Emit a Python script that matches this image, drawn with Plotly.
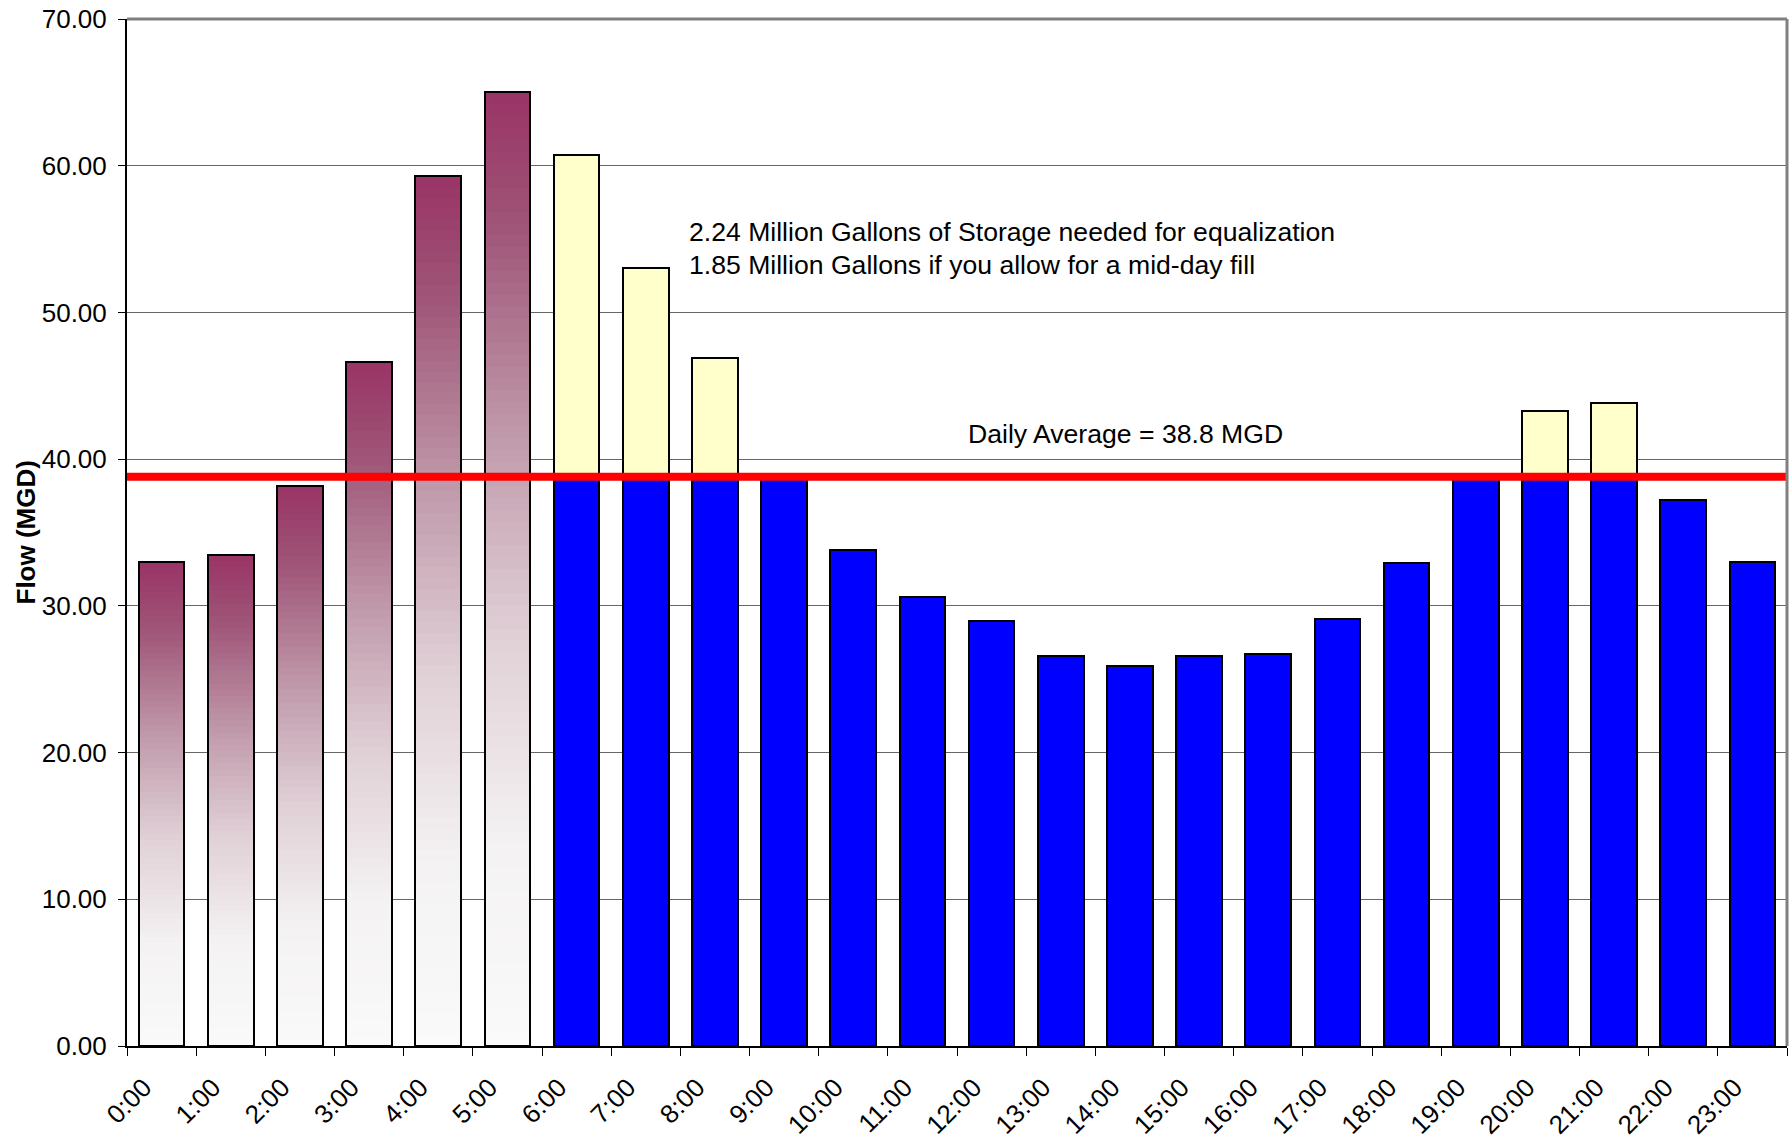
import plotly.graph_objects as go

# Hourly flow profile (MGD) for one day
hour_labels = [f"{h}:00" for h in range(24)]
hours = list(range(24))
flow = [33.0, 33.5, 38.2, 46.6, 59.3, 65.0, 60.7, 53.0, 46.9, 38.8, 33.8, 30.6,
        29.0, 26.6, 25.9, 26.6, 26.7, 29.1, 32.9, 38.8, 43.3, 43.8, 37.2, 33.0]
fill_hours = [0, 1, 2, 3, 4, 5]          # early-morning storage fill period
daily_avg = 38.8
y_ticks = [0, 10, 20, 30, 40, 50, 60, 70]

note_lines = ["2.24 Million Gallons of Storage needed for equalization",
              "1.85 Million Gallons if you allow for a mid-day fill"]
avg_label = f"Daily Average = {daily_avg} MGD"

FONT = "Arial, Liberation Sans, Helvetica, sans-serif"
BAR_W = 0.66
# Gradient stops for the fill-period bars (fraction of bar height -> rgb)
GRAD_STOPS = [(0.0, (250, 250, 250)), (0.21, (244, 242, 243)), (0.43, (224, 208, 214)),
              (0.64, (192, 154, 171)), (0.86, (159, 85, 119)), (1.0, (153, 51, 102))]


def blend(t):
    for (f0, c0), (f1, c1) in zip(GRAD_STOPS[:-1], GRAD_STOPS[1:]):
        if t <= f1:
            u = (t - f0) / (f1 - f0)
            r, g, b = (round(c0[i] + (c1[i] - c0[i]) * u) for i in range(3))
            return f"rgb({r},{g},{b})"
    r, g, b = GRAD_STOPS[-1][1]
    return f"rgb({r},{g},{b})"


fig = go.Figure()

# Fill-period bars: vertical gradient built from thin stacked slices
n_slices = 80
gx, gbase, gh, gcol = [], [], [], []
for h in fill_hours:
    v = flow[h]
    step = v / n_slices
    for k in range(n_slices):
        gx.append(h + 0.5)
        gbase.append(k * step)
        gh.append(step * 1.02)
        gcol.append(blend((k + 0.5) / n_slices))
fig.add_trace(go.Bar(x=gx, y=gh, base=gbase, width=BAR_W,
                     marker=dict(color=gcol, line=dict(width=0)),
                     hoverinfo="skip", showlegend=False))
# Outline of the fill-period bars
fig.add_trace(go.Bar(x=[h + 0.5 for h in fill_hours], y=[flow[h] for h in fill_hours],
                     width=BAR_W,
                     marker=dict(color="rgba(0,0,0,0)", line=dict(color="black", width=2)),
                     showlegend=False))

# Remaining hours: flow up to the daily average in blue
rest = [h for h in hours if h not in fill_hours]
fig.add_trace(go.Bar(x=[h + 0.5 for h in rest], y=[min(flow[h], daily_avg) for h in rest],
                     width=BAR_W,
                     marker=dict(color="#0000FF", line=dict(color="black", width=2)),
                     showlegend=False))
# Excess above the daily average in pale yellow
excess = [h for h in rest if flow[h] > daily_avg]
fig.add_trace(go.Bar(x=[h + 0.5 for h in excess], y=[flow[h] - daily_avg for h in excess],
                     base=[daily_avg] * len(excess), width=BAR_W,
                     marker=dict(color="#FFFFCC", line=dict(color="black", width=2)),
                     showlegend=False))

# Daily average line
fig.add_shape(type="line", xref="paper", x0=0, x1=1, yref="y", y0=daily_avg, y1=daily_avg,
              line=dict(color="#FF0000", width=8))
# Gray frame on top and right
fig.add_shape(type="line", xref="paper", x0=0, x1=1, yref="paper", y0=1, y1=1,
              line=dict(color="#808080", width=3))
fig.add_shape(type="line", xref="paper", x0=1, x1=1, yref="paper", y0=0, y1=1,
              line=dict(color="#808080", width=3))

fig.add_annotation(x=8.1, y=55.5, text=note_lines[0], showarrow=False,
                   xanchor="left", yanchor="middle", font=dict(size=26.6, color="black", family=FONT))
fig.add_annotation(x=8.1, y=53.2, text=note_lines[1], showarrow=False,
                   xanchor="left", yanchor="middle", font=dict(size=26.6, color="black", family=FONT))
fig.add_annotation(x=12.13, y=41.7, text=avg_label, showarrow=False,
                   xanchor="left", yanchor="middle", font=dict(size=26.6, color="black", family=FONT))
fig.add_annotation(x=0, xref="paper", xshift=-119, y=0.5, yref="paper", text="<b>Flow (MGD)</b>",
                   textangle=-90, showarrow=False, font=dict(size=26, color="black", family=FONT))

fig.update_layout(
    width=1790, height=1140,
    margin=dict(l=127, r=3, t=19, b=94),
    paper_bgcolor="white", plot_bgcolor="white",
    barmode="overlay", bargap=0,
    font=dict(family=FONT, color="black"),
    showlegend=False,
)
fig.update_xaxes(range=[0, 24], tickmode="array", tickvals=hours + [24],
                 ticktext=hour_labels + [""], tickangle=-45, automargin=False,
                 ticks="outside", ticklen=8, tickcolor="black", tickwidth=1,
                 ticklabelshift=17, ticklabelstandoff=6,
                 showline=True, linecolor="black", linewidth=2,
                 showgrid=False, zeroline=False, tickfont=dict(size=26))
fig.update_yaxes(range=[0, 70], tickmode="array", tickvals=y_ticks,
                 ticktext=[f"{v:.2f}" for v in y_ticks], automargin=False,
                 ticks="outside", ticklen=7, tickcolor="black", tickwidth=1,
                 ticklabelstandoff=6,
                 showline=True, linecolor="black", linewidth=2,
                 showgrid=True, gridcolor="#666666", gridwidth=1,
                 zeroline=False, tickfont=dict(size=26))

fig.write_html("out.html")
